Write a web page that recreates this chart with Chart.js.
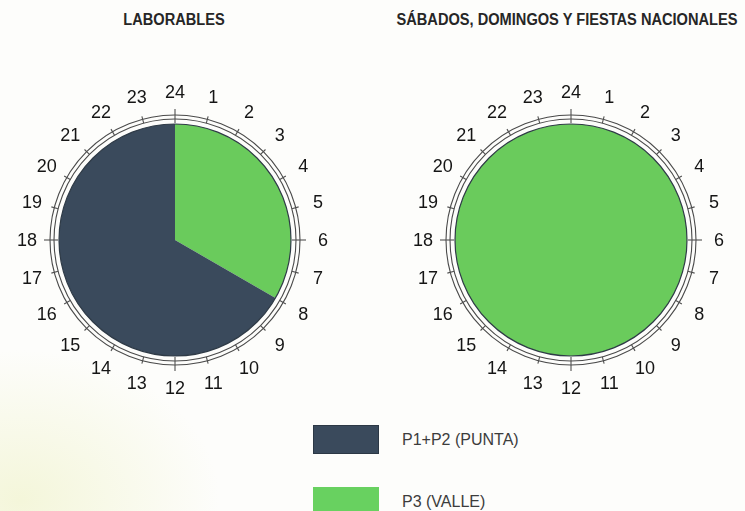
<!DOCTYPE html>
<html>
<head>
<meta charset="utf-8">
<script src="https://cdn.jsdelivr.net/npm/chart.js@4/dist/chart.umd.min.js"></script>
<style>
  html, body { margin:0; padding:0; }
  body {
    width:745px; height:511px; overflow:hidden; position:relative;
    background: radial-gradient(ellipse 200px 150px at 20px 500px, #f4f6da 0%, rgba(253,253,251,0) 100%), #fdfdfb;
    font-family: "Liberation Sans", Arial, sans-serif;
  }
  canvas { position:absolute; }
  .title { position:absolute; top:11px; font-weight:bold; font-size:15.8px; color:#262626; white-space:nowrap; transform:translateX(-50%) scaleX(0.925); line-height:18px; }
  .leg-box { position:absolute; left:313px; width:66px; height:29px; }
  .leg-txt { position:absolute; left:402px; font-size:16px; color:#3c3c3c; white-space:nowrap; line-height:18px; }
</style>
</head>
<body>
<div class="title" id="t0" style="left:174px"></div>
<div class="title" id="t1" style="left:567px"></div>
<canvas id="c0" width="350" height="360" style="left:0px; top:60px"></canvas>
<canvas id="c1" width="348" height="360" style="left:397px; top:60px"></canvas>
<div id="legend"></div>
<script>
// ---- data ----
const chartTitles = ['LABORABLES', 'SÁBADOS, DOMINGOS Y FIESTAS NACIONALES'];
const hourLabels = ['24','1','2','3','4','5','6','7','8','9','10','11','12','13','14','15','16','17','18','19','20','21','22','23'];
const sliceLabels = ['P3 (VALLE)', 'P1+P2 (PUNTA)'];   // slices from 24h clockwise
const sliceColors = ['#6acb5c', '#3a4a5c'];
const laborablesHours = [8, 16];
const festivosHours = [24, 0];
const legendLabels = ['P1+P2 (PUNTA)', 'P3 (VALLE)'];
const legendColors = ['#3a4a5c', '#68d160'];

document.getElementById('t0').textContent = chartTitles[0];
document.getElementById('t1').textContent = chartTitles[1];

// legend
const legTops = [425, 487];
const legend = document.getElementById('legend');
legendLabels.forEach((lab, i) => {
  const b = document.createElement('div');
  b.className = 'leg-box';
  b.style.top = legTops[i] + 'px';
  b.style.background = legendColors[i];
  if (i === 0) b.style.boxShadow = 'inset 0 0 0 1px #2c3845';
  legend.appendChild(b);
  const t = document.createElement('div');
  t.className = 'leg-txt';
  t.style.top = (legTops[i] + 6) + 'px';
  t.textContent = lab;
  legend.appendChild(t);
});

const clockRing = {
  id: 'clockRing',
  afterDatasetsDraw(chart) {
    const arc = chart.getDatasetMeta(0).data[0];
    const x = arc.x, y = arc.y, R = arc.outerRadius;
    const ctx = chart.ctx;
    ctx.save();
    ctx.strokeStyle = '#2f3b47';
    ctx.lineWidth = 1.2;
    ctx.beginPath(); ctx.arc(x, y, R, 0, 2 * Math.PI); ctx.stroke();
    ctx.strokeStyle = '#4a4a4a';
    ctx.lineWidth = 1.1;
    [R + 5, R + 9].forEach(r => { ctx.beginPath(); ctx.arc(x, y, r, 0, 2 * Math.PI); ctx.stroke(); });
    const n = hourLabels.length;
    ctx.font = '18px "Liberation Sans", Arial, sans-serif';
    ctx.fillStyle = '#151515';
    ctx.textAlign = 'center';
    ctx.textBaseline = 'middle';
    hourLabels.forEach((lab, i) => {
      const a = -Math.PI / 2 + i * 2 * Math.PI / n;
      const c = Math.cos(a), s = Math.sin(a);
      const major = i % 6 === 0;
      const r0 = major ? R + 1 : R + 5, r1 = major ? R + 15 : R + 12;
      ctx.strokeStyle = '#505050';
      ctx.beginPath(); ctx.moveTo(x + c * r0, y + s * r0); ctx.lineTo(x + c * r1, y + s * r1); ctx.stroke();
      ctx.fillText(lab, x + c * (R + 32), y + s * (R + 32) + 1);
    });
    ctx.restore();
  }
};

function makePie(id, values) {
  new Chart(document.getElementById(id), {
    type: 'pie',
    data: {
      labels: sliceLabels,
      datasets: [{ data: values, backgroundColor: sliceColors, borderWidth: 0, radius: 116 }]
    },
    options: {
      responsive: false,
      animation: false,
      events: [],
      plugins: { legend: { display: false }, tooltip: { enabled: false }, title: { display: false } }
    },
    plugins: [clockRing]
  });
}
makePie('c0', laborablesHours);
makePie('c1', festivosHours);
</script>
</body>
</html>
